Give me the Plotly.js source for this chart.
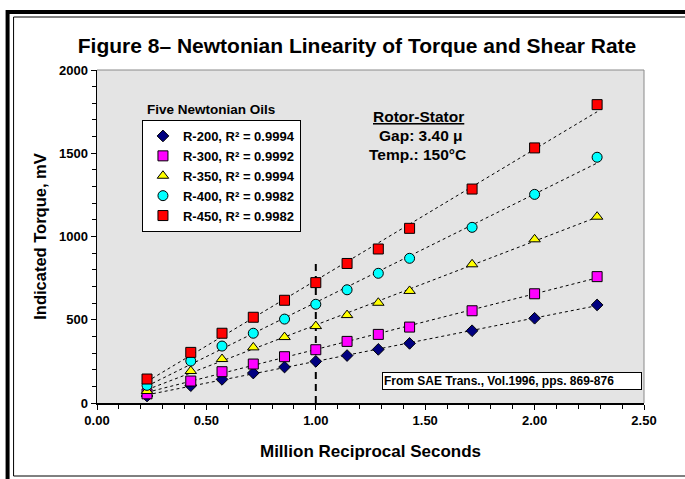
<!DOCTYPE html>
<html>
<head>
<meta charset="utf-8">
<script src="https://cdn.plot.ly/plotly-3.0.1.min.js"></script>
<style>
html,body{margin:0;padding:0;background:#fff;}
#chart{width:685px;height:479px;}
</style>
</head>
<body>
<div id="chart"></div>
<script>
// ---- data ----
const shearRate = [0.2286, 0.4286, 0.5714, 0.7143, 0.8571, 1.0, 1.1429, 1.2857, 1.4286, 1.7143, 2.0, 2.2857];
const r200 = [42, 104, 142, 180, 216, 250, 285, 322, 358, 434, 509, 589];
const r300 = [55, 132, 188, 234, 278, 320, 370, 412, 456, 554, 656, 759];
const r350 = [72, 192, 264, 334, 396, 462, 528, 602, 673, 833, 983, 1119];
const r400 = [106, 252, 342, 419, 504, 593, 680, 779, 869, 1055, 1253, 1476];
const r450 = [144, 304, 419, 515, 617, 723, 838, 925, 1049, 1285, 1532, 1792];
const seriesNames = ["R-200, R\u00b2 = 0.9994", "R-300, R\u00b2 = 0.9992", "R-350, R\u00b2 = 0.9994", "R-400, R\u00b2 = 0.9982", "R-450, R\u00b2 = 0.9982"];
const refLineX = [1.0, 1.0];
const refLineY = [0, 845];
const xTickVals = [0, 0.5, 1.0, 1.5, 2.0, 2.5];
const yTickVals = [0, 500, 1000, 1500, 2000];

const FONT = 'Liberation Sans, Arial, sans-serif';
const seriesData = [r200, r300, r350, r400, r450];
const styles = [
  {symbol: 'diamond', color: '#000080', size: 9},
  {symbol: 'square', color: '#ff00ff', size: 10},
  {symbol: 'triangle-up', color: '#ffff00', size: 10},
  {symbol: 'circle', color: '#00ffff', size: 10},
  {symbol: 'square', color: '#ff0000', size: 10}
];

function linfit(xs, ys) {
  const n = xs.length;
  let sx = 0, sy = 0, sxx = 0, sxy = 0;
  for (let i = 0; i < n; i++) { sx += xs[i]; sy += ys[i]; sxx += xs[i]*xs[i]; sxy += xs[i]*ys[i]; }
  const m = (n*sxy - sx*sy) / (n*sxx - sx*sx);
  const b = (sy - m*sx) / n;
  return {m, b};
}

const traces = [];
// trendlines
seriesData.forEach((ys) => {
  const f = linfit(shearRate, ys);
  const x0 = shearRate[0], x1 = shearRate[shearRate.length-1];
  traces.push({
    x: [x0, x1], y: [f.m*x0 + f.b, f.m*x1 + f.b],
    mode: 'lines', line: {color: '#000', width: 1, dash: 'dot'},
    showlegend: false, hoverinfo: 'skip'
  });
});
// dashed reference line
traces.push({
  x: refLineX, y: refLineY, mode: 'lines',
  line: {color: '#000', width: 2, dash: '7px,5px'}, showlegend: false, hoverinfo: 'skip'
});
// markers
seriesData.forEach((ys, i) => {
  const s = styles[i];
  traces.push({
    x: shearRate, y: ys, mode: 'markers', name: seriesNames[i],
    marker: {symbol: s.symbol, color: s.color, size: s.size, line: {color: '#000', width: 1}}
  });
});

const W = 685, H = 479;
const ml = 97, mr = 40.5, mt = 70, mb = 76;
const pw = W - ml - mr, ph = H - mt - mb;
const px = (x) => (x - ml) / pw;
const py = (y) => (H - mb - y) / ph;

const layout = {
  width: W, height: H,
  margin: {l: ml, r: mr, t: mt, b: mb, pad: 0},
  paper_bgcolor: '#ffffff',
  plot_bgcolor: '#e4e4e4',
  font: {family: FONT, color: '#000'},
  title: {
    text: 'Figure 8\u2013 Newtonian Linearity of Torque and Shear Rate',
    font: {family: FONT, size: 21, weight: 'bold', color: '#000'},
    x: 357/W, xanchor: 'center', y: 1 - 46/H, yanchor: 'middle', yref: 'container'
  },
  xaxis: {
    range: [0, 2.5], tickvals: xTickVals, tickformat: '.2f',
    showgrid: false, zeroline: false, showline: true, linecolor: '#000', linewidth: 1.5,
    ticks: 'outside', ticklen: 5, tickwidth: 1, tickcolor: '#000',
    minor: {dtick: 0.1, ticks: 'outside', ticklen: 4, tickcolor: '#000', showgrid: false},
    tickfont: {family: FONT, size: 13, weight: 'bold', color: '#000'},
    title: {text: 'Million Reciprocal Seconds', standoff: 18,
      font: {family: FONT, size: 17, weight: 'bold', color: '#000'}}
  },
  yaxis: {
    range: [0, 2000], tickvals: yTickVals,
    showgrid: false, zeroline: false, showline: true, linecolor: '#000', linewidth: 1.5,
    ticks: 'outside', ticklen: 5, tickwidth: 1, tickcolor: '#000',
    minor: {dtick: 100, ticks: 'outside', ticklen: 4, tickcolor: '#000', showgrid: false},
    tickfont: {family: FONT, size: 13, weight: 'bold', color: '#000'},
    title: {text: 'Indicated Torque, mV', standoff: 8,
      font: {family: FONT, size: 16.5, weight: 'bold', color: '#000'}}
  },
  showlegend: true,
  legend: {
    x: px(142), y: py(120), xanchor: 'left', yanchor: 'top',
    bgcolor: '#ffffff', bordercolor: '#000', borderwidth: 1,
    font: {family: FONT, size: 13, weight: 'bold', color: '#000'},
    tracegroupgap: 0, itemwidth: 30
  },
  shapes: [
    // outer thick frame (right/bottom run off the picture)
    {type: 'rect', xref: 'paper', yref: 'paper', x0: px(7.5), x1: px(720), y0: py(500), y1: py(12),
     line: {color: '#000', width: 4}, fillcolor: 'rgba(0,0,0,0)', layer: 'above'},
    // inner thin frame
    {type: 'rect', xref: 'paper', yref: 'paper', x0: px(13.5), x1: px(720), y0: py(476), y1: py(17),
     line: {color: '#000', width: 1}, fillcolor: 'rgba(0,0,0,0)', layer: 'above'},
    // plot-area gray border top and right
    {type: 'line', xref: 'paper', yref: 'paper', x0: 0, x1: 1, y0: 1, y1: 1, line: {color: '#8a8a8a', width: 1}},
    {type: 'line', xref: 'paper', yref: 'paper', x0: 1, x1: 1, y0: 0, y1: 1, line: {color: '#8a8a8a', width: 1}}
  ],
  annotations: [
    {text: 'Five Newtonian Oils', xref: 'paper', yref: 'paper', x: px(211), y: py(109),
     xanchor: 'center', yanchor: 'middle', showarrow: false,
     font: {family: FONT, size: 13.5, weight: 'bold', color: '#000'}},
    {text: 'Rotor-Stator', xref: 'paper', yref: 'paper', x: px(419), y: py(116),
     xanchor: 'center', yanchor: 'middle', showarrow: false,
     font: {family: FONT, size: 15.5, weight: 'bold', color: '#000', lineposition: 'under'}},
    {text: 'Gap: 3.40 \u03bc', xref: 'paper', yref: 'paper', x: px(421), y: py(135),
     xanchor: 'center', yanchor: 'middle', showarrow: false,
     font: {family: FONT, size: 15.5, weight: 'bold', color: '#000'}},
    {text: 'Temp.: 150\u00b0C', xref: 'paper', yref: 'paper', x: px(418), y: py(154),
     xanchor: 'center', yanchor: 'middle', showarrow: false,
     font: {family: FONT, size: 15.5, weight: 'bold', color: '#000'}},
    {text: 'From SAE Trans., Vol.1996, pps. 869-876', xref: 'paper', yref: 'paper', x: px(512), y: py(380.5),
     xanchor: 'center', yanchor: 'middle', showarrow: false, align: 'left',
     width: 256, height: 14, borderpad: 1, bordercolor: '#000', borderwidth: 1, bgcolor: '#ffffff',
     font: {family: FONT, size: 12, weight: 'bold', color: '#000'}}
  ]
};

Plotly.newPlot('chart', traces, layout, {displayModeBar: false, staticPlot: true});
</script>
</body>
</html>
